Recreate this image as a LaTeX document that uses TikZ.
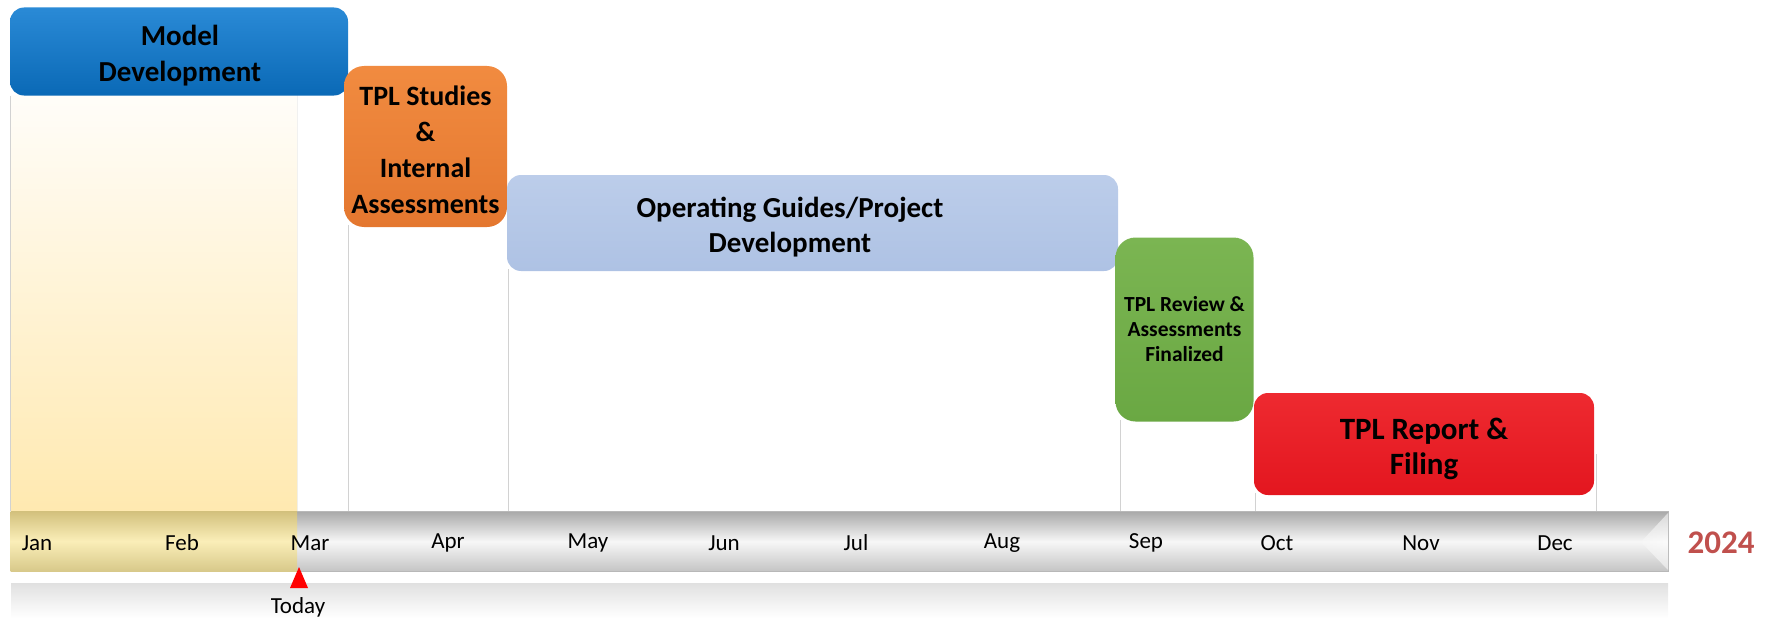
\documentclass[tikz,border=0pt]{standalone}
\usepackage{fontspec}
\setmainfont{Carlito}
\usetikzlibrary{calc,backgrounds}
\definecolor{mdtop}{HTML}{2A8AD6}
\definecolor{mdbot}{HTML}{0A69B6}
\definecolor{ortop}{HTML}{F18B40}
\definecolor{orbot}{HTML}{E4772F}
\definecolor{bltop}{HTML}{BCCDEA}
\definecolor{blbot}{HTML}{AEC2E4}
\definecolor{grtop}{HTML}{7BB552}
\definecolor{grbot}{HTML}{6AA843}
\definecolor{rdtop}{HTML}{EE2A30}
\definecolor{rdbot}{HTML}{E3161F}
\definecolor{yeartxt}{HTML}{C0504D}
\definecolor{vline}{HTML}{D2D2D2}
\definecolor{barA}{HTML}{A9A9A9}
\definecolor{barB}{HTML}{F7F7F7}
\definecolor{barC}{HTML}{C4C4C4}
\definecolor{gldA}{HTML}{D2C07C}
\definecolor{gldB}{HTML}{FAEEB8}
\definecolor{gldC}{HTML}{D8C98A}
\definecolor{bgtop}{HTML}{FFFDF9}
\definecolor{bgbot}{HTML}{FFE9B0}
\begin{document}
\begin{tikzpicture}[x=1pt,y=-1pt,
  phase/.style={inner sep=0pt, draw=none},
  lbl/.style={inner sep=0pt, align=center},
  month/.style={inner sep=0pt, font=\fontsize{23}{26}\selectfont},
  gridline/.style={draw=vline, line width=1.2pt}]
\useasboundingbox (0,0) rectangle (1770,618);
% beige past region
\shade[top color=bgtop, bottom color=bgbot] (11,95) rectangle (297,511);
% reflection
\shade[top color=black!12, bottom color=white] (11,583) rectangle (1668,618);
% boxes
\node[phase, rounded corners=14pt, top color=mdtop, bottom color=mdbot,
  minimum width=338pt, minimum height=88pt] (md) at (179,51.5) {};
\node[lbl, font=\fontsize{29}{36}\selectfont\bfseries] (mdtext) at (180,56) {Model\\Development};
\node[phase, rounded corners=20pt, top color=ortop, bottom color=orbot,
  minimum width=163pt, minimum height=161pt] (ts) at (425.5,146.5) {};
\node[lbl, font=\fontsize{28}{36}\selectfont\bfseries] (tstext) at (425.5,149.5) {TPL Studies\\\&\\Internal\\Assessments};
\node[phase, rounded corners=14pt, top color=bltop, bottom color=blbot,
  minimum width=611pt, minimum height=96pt] (og) at (812.5,223) {};
\node[lbl, font=\fontsize{29}{35}\selectfont\bfseries] (ogtext) at (790,227.5) {Operating Guides/Project\\Development};
\node[phase, rounded corners=20pt, top color=grtop, bottom color=grbot,
  minimum width=138pt, minimum height=184pt] (rv) at (1184.5,329.5) {};
\node[lbl, font=\fontsize{21.5}{25}\selectfont\bfseries] (rvtext) at (1184.5,329.5) {TPL Review \&\\Assessments\\Finalized};
\node[phase, rounded corners=14pt, top color=rdtop, bottom color=rdbot,
  minimum width=340pt, minimum height=102pt] (rp) at (1424,444) {};
\node[lbl, font=\fontsize{31}{35}\selectfont\bfseries] (rptext) at (1424,448.5) {TPL Report \&\\Filing};
% timeline bar
\node[draw=black!28, line width=0.8pt, inner sep=0pt, minimum width=1657pt, minimum height=60pt,
  top color=barA, bottom color=barC, middle color=barB] (bar) at (839.5,541.5) {};
\shade[top color=gldA, bottom color=gldC, middle color=gldB] (bar.north west) rectangle (297,571);
\shade[left color=barB, right color=white, opacity=0.55] (1668,513) -- (1641,542) -- (1668,570) -- cycle;
% grid lines
\begin{scope}[on background layer]
\draw[gridline] (md.south west) ++(1,0) coordinate (g0) -- (g0 |- bar.north);
\draw[gridline] (ts.south west) ++(5,-2) coordinate (g1) -- (g1 |- bar.north);
\draw[gridline] (og.south west) ++(2,-2) coordinate (g2) -- (g2 |- bar.north);
\draw[gridline] (rv.south west) ++(5,-2) coordinate (g3) -- (g3 |- bar.north);
\draw[gridline] (rp.south west) ++(2,-2) coordinate (g4) -- (g4 |- bar.north);
\draw[gridline] (rp.east) ++(2,10) coordinate (g5) -- (g5 |- bar.north);
\draw[draw=black!6, line width=1pt] (297,95) -- (297,511);
\end{scope}
% months
\node[month] (m1) at (37,543) {Jan};
\node[month] (m2) at (182,543) {Feb};
\node[month] (m3) at (310,543) {Mar};
\node[month] (m4) at (448,543) {Apr};
\node[month] (m5) at (588,543) {May};
\node[month] (m6) at (724,543) {Jun};
\node[month] (m7) at (856,543) {Jul};
\node[month] (m8) at (1002,543) {Aug};
\node[month] (m9) at (1146,543) {Sep};
\node[month] (m10) at (1277,543) {Oct};
\node[month] (m11) at (1421,543) {Nov};
\node[month] (m12) at (1555,543) {Dec};
\node[inner sep=0pt, text=yeartxt, font=\fontsize{33}{36}\selectfont\bfseries] (yr) at (1721,543) {2024};
% today marker
\fill[red] (299,567) -- (308,588) -- (290,588) -- cycle;
\node[month] (today) at (298,607) {Today};
\end{tikzpicture}
\end{document}
